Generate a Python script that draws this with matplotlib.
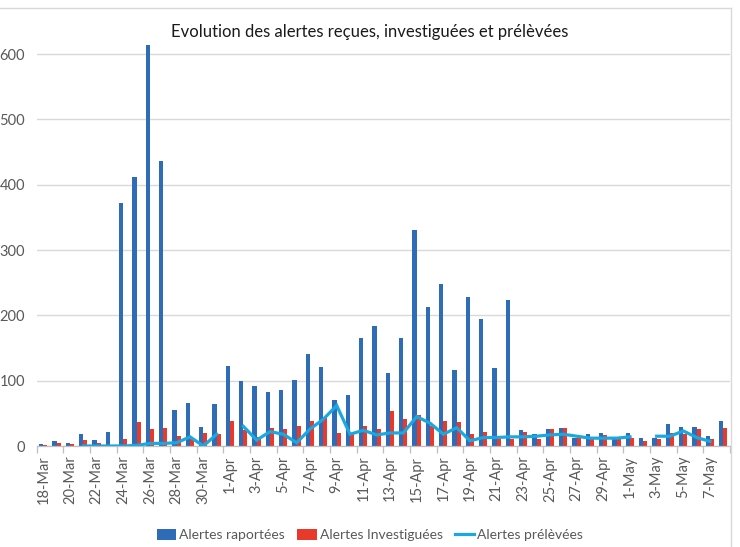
import numpy as np
import pandas as pd
import matplotlib
matplotlib.use('Agg')
import matplotlib.pyplot as plt
from matplotlib.ticker import FixedLocator

plt.rcParams['font.family'] = ['Lato', 'DejaVu Sans']

dates = pd.date_range('2020-03-18', '2020-05-08')
categories = [f"{d.day}-{d.strftime('%b')}" for d in dates]

rapportees = [3, 8, 5, 18, 9, 21, 372, 412, 614, 436, 55, 66, 29, 64,
              123, 100, 92, 82, 85, 101, 141, 121, 70, 78, 165, 183, 112, 165,
              331, 213, 248, 116, 228, 195, 120, 223, 25, 18, 26, 28, 12, 18,
              20, 14, 20, 12, 12, 34, 29, 29, 16, 38]
investiguees = [1, 5, 3, 9, 5, 2, 11, 36, 26, 27, 16, 11, 20, 18,
                38, 25, 14, 28, 26, 30, 38, 43, 20, 18, 31, 26, 53, 41,
                47, 30, 38, 36, 19, 22, 11, 11, 21, 11, 26, 28, 13, 14,
                17, 14, 13, 8, 11, 20, 18, 26, 11, 28]
nan = np.nan
prelevees = [nan, nan, nan, 0, 0, 0, 0, 1, 4, 4, 5, 14, 0, 18,
             nan, 30, 9, 22, 18, 5, 26, 41, 62, 18, 24, 17, 20, 20,
             45, 35, 18, 28, 8, 13, 13, 14, 14, 15, 17, 18, 15, 12,
             12, 12, 14, nan, 15, 15, 23, 13, 7, nan]

series_names = ['Alertes raportées', 'Alertes Investiguées', 'Alertes prélèvées']
title = 'Evolution des alertes reçues, investiguées et prélèvées'
yticks = [0, 100, 200, 300, 400, 500, 600]

blue = '#2E6CB8'
red = '#E8392B'
cyan = '#1AA8E0'
grey_txt = '#595959'
grid_c = '#D9D9D9'

W, H = 740, 547
fig = plt.figure(figsize=(W / 100, H / 100), dpi=100)
left, right, bottom, top = 36.7, 730, 446, 41
ax = fig.add_axes([left / W, (H - bottom) / H, (right - left) / W, (bottom - top) / H])

x = np.arange(len(categories))
bw = 0.31
b1 = ax.bar(x - 0.16, rapportees, width=bw, color=blue, label=series_names[0], zorder=2)
b2 = ax.bar(x + 0.15, investiguees, width=bw, color=red, label=series_names[1], zorder=2)
l1, = ax.plot(x, prelevees, color=cyan, lw=2.3, label=series_names[2], zorder=3,
              solid_joinstyle='miter')

ax.set_xlim(-0.5, len(categories) - 0.5)
ax.set_ylim(0, 620)
ax.set_yticks(yticks)
ax.set_yticklabels([str(v) for v in yticks])
ax.yaxis.grid(True, color=grid_c, lw=1)
ax.set_axisbelow(True)
for s in ['left', 'right', 'top']:
    ax.spines[s].set_visible(False)
ax.spines['bottom'].set_color('#BFBFBF')
ax.spines['bottom'].set_linewidth(0.9)

ax.tick_params(axis='y', length=0, pad=8.5, labelsize=10.5, labelcolor=grey_txt)
ax.set_xticks(x[::2])
ax.set_xticklabels(categories[::2], rotation=90)
ax.xaxis.set_minor_locator(FixedLocator(np.arange(-0.5, len(categories), 2)))
ax.tick_params(axis='x', which='major', length=0, pad=7, labelsize=10.5, labelcolor=grey_txt)
ax.tick_params(axis='x', which='minor', length=5, color='#BFBFBF', width=0.9)

fig.text(0.5, (H - 32) / H, title, ha='center', va='center', fontsize=12, color='#1a1a1a')

fig.legend([b1, b2, l1], series_names, loc='center', bbox_to_anchor=(0.5, 12 / H), ncol=3,
           frameon=False, fontsize=10, handlelength=1.4, handleheight=0.8,
           columnspacing=0.9, handletextpad=0.2, labelcolor=grey_txt)

# chart border (top and right)
fig.add_artist(plt.Line2D([0, 730.5 / W], [(H - 8) / H] * 2, color=grid_c, lw=1))
fig.add_artist(plt.Line2D([730.5 / W] * 2, [0, (H - 8) / H], color=grid_c, lw=1))

fig.savefig('out.png', dpi=100)
